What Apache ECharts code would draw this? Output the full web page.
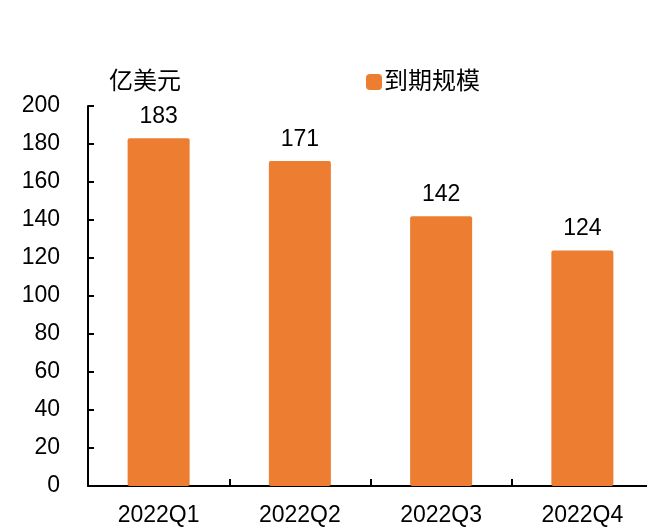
<!DOCTYPE html>
<html>
<head>
<meta charset="utf-8">
<script src="https://cdn.jsdelivr.net/npm/echarts@6/dist/echarts.min.js"></script>
<style>
  html, body { margin: 0; padding: 0; background: #fff; overflow: hidden; }
  /* canvas is a little wider than the page so the category axis runs off the right edge */
  #chart { width: 653px; height: 527px; }
</style>
</head>
<body>
<div id="chart"></div>
<script>
// Quarterly maturities (USD 100 million)
const quarters = ['2022Q1', '2022Q2', '2022Q3', '2022Q4'];
const maturityValues = [183, 171, 142, 124];
const seriesName = '到期规模';
const unitLabel = '亿美元';

const FONT = '"Liberation Sans", Arial, "Noto Sans CJK SC", sans-serif';
const ORANGE = '#ED7D31';

const chart = echarts.init(document.getElementById('chart'), null, { renderer: 'canvas' });

chart.setOption({
  animation: false,
  backgroundColor: '#ffffff',
  textStyle: { fontFamily: FONT },
  legend: {
    data: [seriesName],
    left: 361,
    top: 65,
    itemWidth: 16,
    itemHeight: 16,
    itemGap: 6,
    icon: 'roundRect',
    textStyle: { fontSize: 24, color: '#000', fontFamily: FONT, padding: [0, 0, 0, -3] }
  },
  graphic: [{
    type: 'text',
    left: 109,
    top: 70,
    style: { text: unitLabel, fontSize: 24, fill: '#000', fontFamily: FONT }
  }],
  grid: { left: 88, right: 0, top: 106, bottom: 41, containLabel: false },
  xAxis: {
    type: 'category',
    data: quarters,
    axisLine: { show: true, lineStyle: { color: '#000', width: 2 } },
    axisTick: { show: true, inside: true, length: 7, alignWithLabel: false, lineStyle: { color: '#000', width: 2 } },
    axisLabel: { fontSize: 23, color: '#000', margin: 18, fontFamily: FONT },
    splitLine: { show: false }
  },
  yAxis: {
    type: 'value',
    min: 0,
    max: 200,
    interval: 20,
    axisLine: { show: true, lineStyle: { color: '#000', width: 2 } },
    axisTick: { show: true, inside: true, length: 6, lineStyle: { color: '#000', width: 2 } },
    axisLabel: { fontSize: 23, color: '#000', margin: 28, fontFamily: FONT },
    splitLine: { show: false }
  },
  series: [{
    name: seriesName,
    type: 'bar',
    data: maturityValues,
    barWidth: 62,
    itemStyle: { color: ORANGE, borderRadius: 2 },
    label: {
      show: true,
      position: 'top',
      distance: 10,
      fontSize: 23,
      color: '#000',
      fontFamily: FONT
    }
  }]
});
</script>
</body>
</html>
